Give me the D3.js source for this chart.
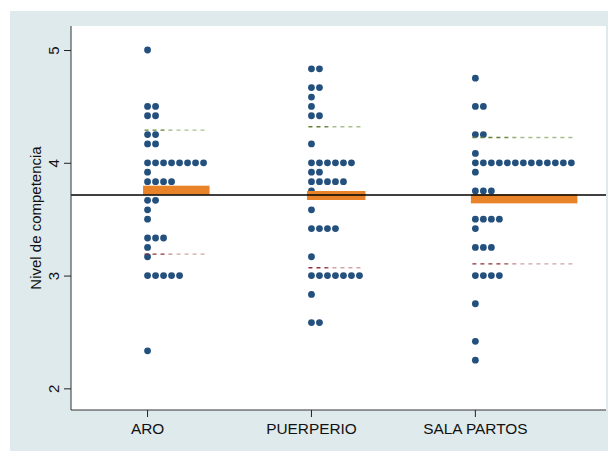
<!DOCTYPE html>
<html>
<head>
<meta charset="utf-8">
<script src="https://cdn.jsdelivr.net/npm/d3@7"></script>
<style>
  body { margin: 0; background: #fff; }
  text { font-family: "Liberation Sans", Arial, sans-serif; }
</style>
</head>
<body>
<div id="chart"></div>
<script>
// categorías
const categories = ["ARO", "PUERPERIO", "SALA PARTOS"];

// valores observados (nivel) y número de casos en cada nivel
const aroValues = [5, 4.5, 4.417, 4.25, 4.167, 4, 3.917, 3.833, 3.667, 3.583, 3.5, 3.333, 3.25, 3.167, 3, 2.333];
const aroCounts = [1, 2, 2, 2, 2, 8, 1, 4, 2, 1, 1, 3, 1, 1, 5, 1];

const puerValues = [4.833, 4.667, 4.583, 4.5, 4.417, 4.167, 4, 3.917, 3.833, 3.75, 3.583, 3.417, 3.167, 3, 2.833, 2.583];
const puerCounts = [2, 2, 1, 1, 2, 1, 6, 2, 5, 1, 1, 4, 1, 7, 1, 2];

const salaValues = [4.75, 4.5, 4.25, 4.083, 4, 3.917, 3.75, 3.5, 3.417, 3.25, 3, 2.75, 2.417, 2.25];
const salaCounts = [1, 2, 2, 1, 13, 1, 3, 4, 1, 3, 4, 1, 1, 1];

// media por grupo, límites superior / inferior (líneas discontinuas)
const groupMeans = [3.757, 3.71, 3.68];
const upperLines = [4.29, 4.32, 4.224];
const lowerLines = [3.19, 3.07, 3.104];
const overallMean = 3.715;

const yTicks = [2, 3, 4, 5];

const width = 608, height = 451;
const margin = { top: 26, right: 2, bottom: 41, left: 71 };

const svg = d3.select("#chart").append("svg")
    .attr("width", width)
    .attr("height", height);

// fondo del gráfico
svg.append("rect")
    .attr("x", 10).attr("y", 11)
    .attr("width", width - 10).attr("height", height - 11)
    .attr("fill", "#dfeaec");

svg.append("rect")
    .attr("x", margin.left).attr("y", margin.top)
    .attr("width", width - margin.right - margin.left)
    .attr("height", height - margin.bottom - margin.top)
    .attr("fill", "#fff");

const x = d3.scaleLinear()
    .domain([0.536, 3.80])
    .range([margin.left, width - margin.right]);

const y = d3.scaleLinear()
    .domain([1.808, 5.213])
    .range([height - margin.bottom, margin.top]);

const step = 8;   // separación horizontal entre puntos
const groups = [
    { values: aroValues, counts: aroCounts },
    { values: puerValues, counts: puerCounts },
    { values: salaValues, counts: salaCounts }
];

const dots = [];
groups.forEach((g, gi) => {
    g.values.forEach((v, i) => {
        for (let k = 0; k < g.counts[i]; k++) dots.push({ g: gi, v: v, k: k });
    });
    g.maxCount = d3.max(g.counts);
});

const cx = d => x(d.g + 1) + 0.5 + d.k * step;

// puntos
svg.append("g").selectAll("circle")
    .data(dots)
    .enter()
    .append("circle")
    .attr("cx", cx)
    .attr("cy", d => y(d.v))
    .attr("r", 3.4)
    .attr("fill", "#24507e");

// degradados para las líneas discontinuas
const defs = svg.append("defs");
function gradient(id, x1, x2, dark, light) {
    const lg = defs.append("linearGradient")
        .attr("id", id)
        .attr("gradientUnits", "userSpaceOnUse")
        .attr("x1", x1).attr("x2", x2).attr("y1", 0).attr("y2", 0);
    lg.append("stop").attr("offset", "0%").attr("stop-color", dark);
    lg.append("stop").attr("offset", "30%").attr("stop-color", dark);
    lg.append("stop").attr("offset", "45%").attr("stop-color", light);
    lg.append("stop").attr("offset", "100%").attr("stop-color", light);
}

groups.forEach((g, gi) => {
    const x0 = x(gi + 1) + 0.5;
    const x1 = x0 - 3;
    const x2 = x0 + (g.maxCount - 1) * step + 3.5;
    gradient("up" + gi, x1, x2, "#5f7f33", "#a7bd8c");
    gradient("lo" + gi, x1, x2, "#8e2f35", "#d2a3a6");

    svg.append("line")
        .attr("x1", x1).attr("x2", x2)
        .attr("y1", y(upperLines[gi])).attr("y2", y(upperLines[gi]))
        .attr("stroke", `url(#up${gi})`)
        .attr("stroke-width", 1.4)
        .attr("stroke-dasharray", "4,4");

    svg.append("line")
        .attr("x1", x1).attr("x2", x2)
        .attr("y1", y(lowerLines[gi])).attr("y2", y(lowerLines[gi]))
        .attr("stroke", `url(#lo${gi})`)
        .attr("stroke-width", 1.4)
        .attr("stroke-dasharray", "4,4");

    // barra de la media del grupo
    svg.append("rect")
        .attr("x", x0 - 4.5)
        .attr("y", y(groupMeans[gi]) - 4.5)
        .attr("width", (g.maxCount - 1) * step + 10.5)
        .attr("height", 9)
        .attr("fill", "#e8832a");
});

// media global
svg.append("line")
    .attr("x1", margin.left).attr("x2", width - margin.right)
    .attr("y1", y(overallMean)).attr("y2", y(overallMean))
    .attr("stroke", "#000")
    .attr("stroke-width", 1.6);

// ejes
const yAxis = svg.append("g")
    .attr("transform", `translate(${margin.left},0)`)
    .call(d3.axisLeft(y).tickValues(yTicks).tickSize(7).tickPadding(6).tickFormat(d3.format("d")));
yAxis.select(".domain").attr("stroke", "#333").attr("d", `M0,${margin.top}V${height - margin.bottom}`);
yAxis.selectAll(".tick line").attr("stroke", "#222");
yAxis.selectAll(".tick text")
    .attr("transform", "rotate(-90)")
    .attr("x", 0)
    .attr("y", -12.5)
    .attr("dy", 0)
    .attr("text-anchor", "middle")
    .style("font-size", "15px")
    .attr("fill", "#111");

const xAxis = svg.append("g")
    .attr("transform", `translate(0,${height - margin.bottom})`)
    .call(d3.axisBottom(x).tickValues([1, 2, 3]).tickSize(7).tickFormat(d => categories[d - 1]));
xAxis.select(".domain").attr("stroke", "#333").attr("d", `M${margin.left},0H${width - margin.right}`);
xAxis.selectAll(".tick line").attr("stroke", "#222");
xAxis.selectAll(".tick text")
    .attr("y", 24)
    .attr("dy", 0)
    .style("font-size", "15.4px")
    .attr("fill", "#111");

svg.append("text")
    .attr("transform", `translate(40.5,218) rotate(-90)`)
    .attr("text-anchor", "middle")
    .style("font-size", "15px")
    .attr("fill", "#111")
    .text("Nivel de competencia");
</script>
</body>
</html>
